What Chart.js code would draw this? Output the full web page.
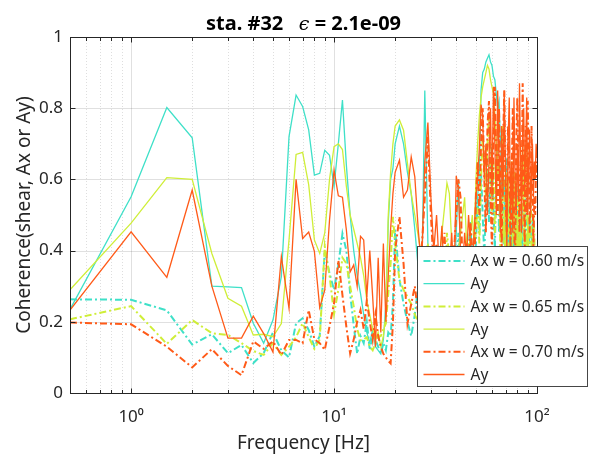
<!DOCTYPE html>
<html>
<head>
<meta charset="utf-8">
<script src="https://cdn.jsdelivr.net/npm/chart.js@4.4.1/dist/chart.umd.min.js"></script>
<style>
  html, body { margin: 0; padding: 0; background: #ffffff; }
  #wrap { width: 597px; height: 460px; }
</style>
</head>
<body>
<div id="wrap"><canvas id="chart" width="597" height="460"></canvas></div>
<script>
// Frequency bins [Hz]
const FREQ = [
  0.5, 1, 1.5, 2, 2.5, 3, 3.5, 4, 4.5, 5,
  5.5, 6, 6.5, 7, 7.5, 8, 8.5, 9, 9.5, 10,
  10.5, 11, 11.5, 12, 12.5, 13, 13.5, 14, 14.5, 15,
  15.5, 16, 16.5, 17, 17.5, 18, 18.5, 19, 19.5, 20,
  21, 22, 23, 24, 25, 26, 27, 28, 29, 30,
  31, 32, 33, 34, 35, 36, 37, 38, 39, 40,
  41, 42, 43, 44, 45, 46, 47, 48, 49, 50,
  51, 52, 53, 54, 55, 56, 57, 58, 59, 60,
  61, 62, 63, 64, 65, 66, 67, 68, 69, 70,
  71, 72, 73, 74, 75, 76, 77, 78, 79, 80,
  81, 82, 83, 84, 85, 86, 87, 88, 89, 90,
  91, 92, 93, 94, 95, 96, 97, 98, 99, 100
];

// Coherence of shear with Ax / Ay, one pair per tow speed
const AX_060 = [
  0.263, 0.262, 0.232, 0.136, 0.165, 0.112, 0.135, 0.084, 0.112, 0.170,
  0.120, 0.100, 0.196, 0.210, 0.177, 0.130, 0.160, 0.400, 0.336, 0.290,
  0.360, 0.448, 0.400, 0.280, 0.190, 0.110, 0.160, 0.140, 0.200, 0.120,
  0.160, 0.150, 0.130, 0.110, 0.140, 0.120, 0.170, 0.160, 0.250, 0.458,
  0.320, 0.250, 0.200, 0.160, 0.220, 0.300, 0.150, 0.350, 0.200, 0.120,
  0.250, 0.150, 0.300, 0.180, 0.120, 0.220, 0.300, 0.150, 0.250, 0.350,
  0.450, 0.300, 0.200, 0.350, 0.280, 0.400, 0.480, 0.350, 0.300, 0.420,
  0.550, 0.450, 0.620, 0.500, 0.380, 0.550, 0.660, 0.480, 0.600, 0.700,
  0.520, 0.400, 0.620, 0.680, 0.450, 0.550, 0.720, 0.500, 0.350, 0.600,
  0.660, 0.420, 0.550, 0.300, 0.480, 0.620, 0.400, 0.250, 0.500, 0.580,
  0.350, 0.450, 0.300, 0.520, 0.400, 0.250, 0.450, 0.550, 0.320, 0.420,
  0.280, 0.500, 0.380, 0.220, 0.450, 0.300, 0.400, 0.250, 0.350, 0.300
];
const AY_060 = [
  0.235, 0.551, 0.802, 0.717, 0.300, 0.298, 0.296, 0.196, 0.140, 0.205,
  0.327, 0.720, 0.837, 0.805, 0.739, 0.612, 0.617, 0.682, 0.668, 0.580,
  0.700, 0.823, 0.640, 0.500, 0.400, 0.330, 0.280, 0.220, 0.170, 0.140,
  0.180, 0.130, 0.120, 0.110, 0.150, 0.250, 0.480, 0.600, 0.630, 0.700,
  0.750, 0.700, 0.620, 0.560, 0.460, 0.350, 0.280, 0.850, 0.420, 0.300,
  0.220, 0.300, 0.350, 0.250, 0.300, 0.400, 0.350, 0.250, 0.300, 0.450,
  0.600, 0.400, 0.300, 0.350, 0.300, 0.350, 0.400, 0.380, 0.450, 0.500,
  0.550, 0.620, 0.850, 0.900, 0.910, 0.930, 0.940, 0.950, 0.930, 0.920,
  0.890, 0.880, 0.840, 0.800, 0.820, 0.700, 0.720, 0.550, 0.600, 0.450,
  0.500, 0.380, 0.420, 0.550, 0.350, 0.300, 0.450, 0.400, 0.250, 0.480,
  0.350, 0.300, 0.420, 0.520, 0.300, 0.250, 0.400, 0.350, 0.200, 0.450,
  0.300, 0.380, 0.250, 0.420, 0.500, 0.300, 0.350, 0.250, 0.300, 0.350
];
const AX_065 = [
  0.207, 0.244, 0.138, 0.205, 0.168, 0.163, 0.140, 0.118, 0.107, 0.140,
  0.107, 0.130, 0.157, 0.196, 0.157, 0.124, 0.150, 0.412, 0.330, 0.222,
  0.290, 0.380, 0.364, 0.300, 0.243, 0.180, 0.148, 0.150, 0.157, 0.130,
  0.120, 0.140, 0.157, 0.160, 0.180, 0.195, 0.280, 0.364, 0.495, 0.420,
  0.317, 0.290, 0.270, 0.250, 0.220, 0.200, 0.260, 0.350, 0.420, 0.300,
  0.220, 0.350, 0.280, 0.200, 0.300, 0.450, 0.380, 0.250, 0.300, 0.350,
  0.400, 0.300, 0.250, 0.380, 0.300, 0.420, 0.350, 0.280, 0.400, 0.460,
  0.520, 0.420, 0.600, 0.720, 0.650, 0.550, 0.700, 0.780, 0.600, 0.500,
  0.650, 0.450, 0.550, 0.700, 0.600, 0.400, 0.580, 0.750, 0.520, 0.350,
  0.620, 0.480, 0.300, 0.550, 0.650, 0.420, 0.500, 0.620, 0.350, 0.450,
  0.580, 0.400, 0.300, 0.520, 0.650, 0.450, 0.380, 0.550, 0.700, 0.480,
  0.320, 0.450, 0.600, 0.400, 0.350, 0.500, 0.450, 0.300, 0.400, 0.350
];
const AY_065 = [
  0.290, 0.477, 0.605, 0.600, 0.392, 0.266, 0.244, 0.163, 0.165, 0.158,
  0.195, 0.430, 0.670, 0.676, 0.585, 0.430, 0.392, 0.450, 0.600, 0.692,
  0.700, 0.684, 0.580, 0.500, 0.460, 0.420, 0.380, 0.330, 0.260, 0.220,
  0.180, 0.150, 0.170, 0.130, 0.160, 0.220, 0.500, 0.620, 0.700, 0.750,
  0.767, 0.738, 0.645, 0.560, 0.500, 0.440, 0.380, 0.300, 0.420, 0.350,
  0.250, 0.300, 0.380, 0.450, 0.520, 0.590, 0.560, 0.420, 0.300, 0.350,
  0.400, 0.450, 0.500, 0.550, 0.420, 0.380, 0.450, 0.500, 0.420, 0.600,
  0.700, 0.780, 0.830, 0.860, 0.880, 0.900, 0.920, 0.910, 0.880, 0.860,
  0.840, 0.780, 0.700, 0.600, 0.650, 0.500, 0.550, 0.420, 0.500, 0.350,
  0.450, 0.600, 0.500, 0.400, 0.350, 0.450, 0.550, 0.420, 0.300, 0.500,
  0.380, 0.450, 0.350, 0.600, 0.700, 0.550, 0.400, 0.450, 0.350, 0.500,
  0.420, 0.300, 0.400, 0.350, 0.450, 0.300, 0.350, 0.400, 0.300, 0.350
];
const AX_070 = [
  0.198, 0.193, 0.130, 0.072, 0.123, 0.076, 0.050, 0.145, 0.124, 0.145,
  0.107, 0.149, 0.149, 0.140, 0.233, 0.151, 0.140, 0.121, 0.187, 0.252,
  0.373, 0.275, 0.186, 0.111, 0.150, 0.200, 0.233, 0.180, 0.260, 0.200,
  0.150, 0.220, 0.160, 0.130, 0.110, 0.100, 0.090, 0.083, 0.195, 0.400,
  0.495, 0.364, 0.195, 0.250, 0.300, 0.220, 0.400, 0.550, 0.720, 0.500,
  0.350, 0.420, 0.250, 0.300, 0.450, 0.300, 0.200, 0.350, 0.400, 0.500,
  0.600, 0.550, 0.350, 0.300, 0.420, 0.350, 0.480, 0.400, 0.300, 0.550,
  0.650, 0.500, 0.700, 0.800, 0.600, 0.450, 0.750, 0.820, 0.550, 0.400,
  0.700, 0.860, 0.650, 0.500, 0.800, 0.600, 0.400, 0.700, 0.850, 0.550,
  0.450, 0.750, 0.650, 0.400, 0.600, 0.800, 0.500, 0.350, 0.700, 0.830,
  0.600, 0.450, 0.650, 0.550, 0.870, 0.600, 0.400, 0.750, 0.500, 0.820,
  0.650, 0.450, 0.550, 0.750, 0.600, 0.400, 0.550, 0.500, 0.650, 0.600
];
const AY_070 = [
  0.233, 0.453, 0.325, 0.570, 0.300, 0.154, 0.154, 0.216, 0.167, 0.115,
  0.383, 0.238, 0.600, 0.434, 0.452, 0.398, 0.240, 0.289, 0.486, 0.626,
  0.554, 0.550, 0.458, 0.340, 0.360, 0.300, 0.440, 0.430, 0.270, 0.400,
  0.270, 0.130, 0.380, 0.170, 0.420, 0.200, 0.330, 0.460, 0.560, 0.620,
  0.654, 0.550, 0.570, 0.663, 0.607, 0.458, 0.350, 0.650, 0.760, 0.550,
  0.400, 0.500, 0.350, 0.470, 0.300, 0.400, 0.350, 0.450, 0.300, 0.610,
  0.570, 0.400, 0.350, 0.450, 0.380, 0.500, 0.420, 0.350, 0.450, 0.550,
  0.600, 0.690, 0.810, 0.780, 0.600, 0.700, 0.500, 0.650, 0.800, 0.550,
  0.860, 0.700, 0.500, 0.850, 0.650, 0.450, 0.750, 0.550, 0.850, 0.600,
  0.400, 0.700, 0.830, 0.500, 0.650, 0.450, 0.830, 0.600, 0.500, 0.700,
  0.550, 0.870, 0.650, 0.450, 0.750, 0.800, 0.550, 0.700, 0.830, 0.500,
  0.650, 0.740, 0.500, 0.600, 0.700, 0.550, 0.650, 0.600, 0.700, 0.660
];

const SERIES_LABELS = ['Ax w = 0.60 m/s', 'Ay', 'Ax w = 0.65 m/s', 'Ay', 'Ax w = 0.70 m/s', 'Ay'];

// Axis ticks
const X_TICKS = [1, 10, 100];
const X_TICK_LABELS = ['10\u2070', '10\u00B9', '10\u00B2'];
const X_MINOR_TICKS = [0.6, 0.7, 0.8, 0.9, 2, 3, 4, 5, 6, 7, 8, 9, 20, 30, 40, 50, 60, 70, 80, 90];
const Y_TICKS = [0, 0.2, 0.4, 0.6, 0.8, 1];

const FONT = '"Noto Sans", "DejaVu Sans", sans-serif';
const INK = '#262626';
const C_TURQ = '#3ee0c8';
const C_LIME = '#cfee38';
const C_ORNG = '#ff5a18';

const toPoints = vals => FREQ.map((f, i) => ({ x: f, y: vals[i] }));

function axStyle(color) {
  return { borderColor: color, borderWidth: 2, borderDash: [7, 3, 2, 3] };
}
function ayStyle(color) {
  return { borderColor: color, borderWidth: 1.3, borderDash: [] };
}

const series = [
  [AX_060, axStyle(C_TURQ)], [AY_060, ayStyle(C_TURQ)],
  [AX_065, axStyle(C_LIME)], [AY_065, ayStyle(C_LIME)],
  [AX_070, axStyle(C_ORNG)], [AY_070, ayStyle(C_ORNG)]
];

const datasets = series.map(([vals, style], i) => Object.assign({
  label: SERIES_LABELS[i],
  data: toPoints(vals),
  pointRadius: 0,
  tension: 0,
  fill: false,
  order: series.length - i   // later series drawn on top
}, style));

// Grid, box, inward ticks, legend and title
const axesDecor = {
  id: 'axesDecor',
  beforeDatasetsDraw(chart) {
    const { ctx, chartArea: a, scales: { x, y } } = chart;
    ctx.save();
    ctx.lineWidth = 1;
    // minor x grid (dotted)
    ctx.strokeStyle = 'rgba(0,0,0,0.13)';
    ctx.setLineDash([1, 2]);
    X_MINOR_TICKS.forEach(v => {
      const px = Math.round(x.getPixelForValue(v)) + 0.5;
      ctx.beginPath(); ctx.moveTo(px, a.top); ctx.lineTo(px, a.bottom); ctx.stroke();
    });
    // major grid
    ctx.setLineDash([]);
    ctx.strokeStyle = 'rgba(0,0,0,0.12)';
    X_TICKS.forEach(v => {
      const px = Math.round(x.getPixelForValue(v)) + 0.5;
      ctx.beginPath(); ctx.moveTo(px, a.top); ctx.lineTo(px, a.bottom); ctx.stroke();
    });
    Y_TICKS.forEach(v => {
      const py = Math.round(y.getPixelForValue(v)) + 0.5;
      ctx.beginPath(); ctx.moveTo(a.left, py); ctx.lineTo(a.right, py); ctx.stroke();
    });
    ctx.restore();
  },
  afterDatasetsDraw(chart) {
    const { ctx, chartArea: a, scales: { x, y } } = chart;
    ctx.save();
    ctx.strokeStyle = INK;
    ctx.lineWidth = 1;
    const L = Math.round(a.left) + 0.5, R = Math.round(a.right) + 0.5;
    const T = Math.round(a.top) + 0.5, B = Math.round(a.bottom) + 0.5;
    ctx.strokeRect(L, T, R - L, B - T);
    const tick = (v, len) => {
      const px = Math.round(x.getPixelForValue(v)) + 0.5;
      ctx.beginPath();
      ctx.moveTo(px, B); ctx.lineTo(px, B - len);
      ctx.moveTo(px, T); ctx.lineTo(px, T + len);
      ctx.stroke();
    };
    X_TICKS.forEach(v => tick(v, 5));
    X_MINOR_TICKS.forEach(v => tick(v, 3.5));
    Y_TICKS.forEach(v => {
      const py = Math.round(y.getPixelForValue(v)) + 0.5;
      ctx.beginPath();
      ctx.moveTo(L, py); ctx.lineTo(L + 5, py);
      ctx.moveTo(R, py); ctx.lineTo(R - 5, py);
      ctx.stroke();
    });
    ctx.restore();
  },
  afterDraw(chart) {
    const { ctx, chartArea: a } = chart;
    ctx.save();
    // legend box
    const lw = 170, lh = 140;
    const lx = Math.round(a.right + 50 - lw) + 0.5;
    const ly = Math.round(a.bottom - 7 - lh) + 0.5;
    ctx.fillStyle = '#ffffff';
    ctx.fillRect(lx, ly, lw, lh);
    ctx.strokeStyle = 'rgba(38,38,38,0.85)';
    ctx.lineWidth = 1;
    ctx.setLineDash([]);
    ctx.strokeRect(lx, ly, lw, lh);
    ctx.font = '15.5px ' + FONT;
    ctx.textBaseline = 'middle';
    ctx.textAlign = 'left';
    chart.data.datasets.forEach((ds, i) => {
      const ry = ly + 14.5 + i * 22.7;
      ctx.strokeStyle = ds.borderColor;
      ctx.lineWidth = ds.borderWidth;
      ctx.setLineDash(ds.borderDash || []);
      ctx.beginPath(); ctx.moveTo(lx + 6, ry); ctx.lineTo(lx + 47, ry); ctx.stroke();
      ctx.setLineDash([]);
      ctx.fillStyle = INK;
      ctx.fillText(ds.label, lx + 53, ry + 1);
    });
    // title: bold text with a math-style epsilon
    const cx = (a.left + a.right) / 2, ty = 29.5;
    const part1 = 'sta. #32   ', part2 = '\u03F5', part3 = ' = 2.1e-09';
    const bold = 'bold 20px ' + FONT, eps = 'italic 19px "DejaVu Serif", serif';
    ctx.font = bold; const w1 = ctx.measureText(part1).width, w3 = ctx.measureText(part3).width;
    ctx.font = eps; const w2 = ctx.measureText(part2).width;
    let tx = cx - (w1 + w2 + w3) / 2;
    ctx.fillStyle = '#000000';
    ctx.textBaseline = 'alphabetic';
    ctx.font = bold; ctx.fillText(part1, tx, ty); tx += w1;
    ctx.font = eps; ctx.fillText(part2, tx, ty); tx += w2;
    ctx.font = bold; ctx.fillText(part3, tx, ty);
    ctx.restore();
  }
};

new Chart(document.getElementById('chart'), {
  type: 'line',
  data: { datasets },
  options: {
    responsive: false,
    devicePixelRatio: 1,
    animation: false,
    events: [],
    layout: { padding: { left: 0, right: 60, top: 37, bottom: 0 } },
    plugins: { legend: { display: false }, tooltip: { enabled: false }, title: { display: false } },
    scales: {
      x: {
        type: 'logarithmic',
        min: 0.5,
        max: 100,
        grid: { display: false },
        border: { display: false },
        afterBuildTicks: s => { s.ticks = X_TICKS.map(v => ({ value: v })); },
        ticks: {
          autoSkip: false, maxRotation: 0, color: INK, padding: 6,
          font: { family: FONT, size: 17 },
          callback: (v, i) => X_TICK_LABELS[i]
        },
        title: {
          display: true, text: 'Frequency [Hz]', color: INK,
          font: { family: FONT, size: 19 }, padding: { top: 0, bottom: 5 }
        },
        afterFit: s => { s.height = 67; }
      },
      y: {
        min: 0,
        max: 1,
        grid: { display: false, drawTicks: false },
        border: { display: false },
        afterBuildTicks: s => { s.ticks = Y_TICKS.map(v => ({ value: v })); },
        ticks: {
          color: INK, padding: 7,
          font: { family: FONT, size: 17 },
          callback: v => String(v)
        },
        title: {
          display: true, text: 'Coherence(shear, Ax or Ay)', color: INK,
          font: { family: FONT, size: 19 }, padding: { top: 13, bottom: 0 }
        },
        afterFit: s => { s.width = 70; }
      }
    }
  },
  plugins: [axesDecor]
});
</script>
</body>
</html>
